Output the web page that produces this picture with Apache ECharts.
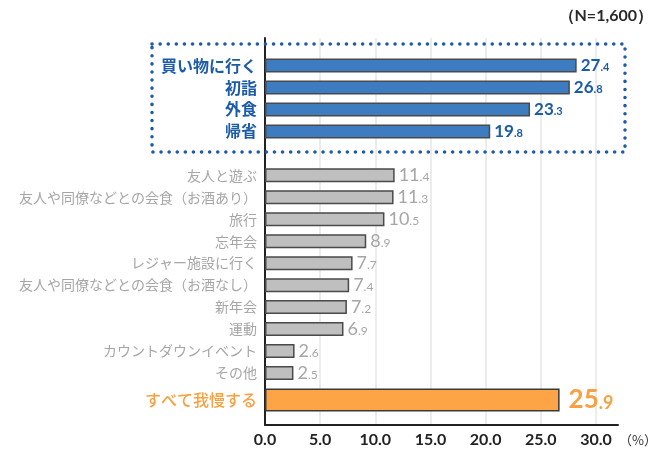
<!DOCTYPE html>
<html>
<head>
<meta charset="utf-8">
<script src="https://cdn.jsdelivr.net/npm/echarts@6/dist/echarts.min.js"></script>
<style>
  html, body { margin: 0; padding: 0; background: #fff; }
  #chart { width: 660px; height: 453px; }
</style>
</head>
<body>
<div id="chart"></div>
<script>
// highlighted activities (blue)
var mainCats = ['買い物に行く', '初詣', '外食', '帰省'];
var mainVals = [27.4, 26.8, 23.3, 19.8];
// other activities (gray)
var otherCats = ['友人と遊ぶ', '友人や同僚などとの会食（お酒あり）', '旅行', '忘年会', 'レジャー施設に行く',
    '友人や同僚などとの会食（お酒なし）', '新年会', '運動', 'カウントダウンイベント', 'その他'];
var otherVals = [11.4, 11.3, 10.5, 8.9, 7.7, 7.4, 7.2, 6.9, 2.6, 2.5];
// "skip everything" (orange)
var noneCats = ['すべて我慢する'];
var noneVals = [25.9];

var xMin = 0, xMax = 32, xStep = 5;

var BLUE = '#1c5ba8', GRAY = '#a6a6a6', ORANGE = '#f7a142';
var JP = '"Noto Sans CJK JP", sans-serif';
var NUM = 'Lato, "Noto Sans", sans-serif';

// blank row between the two groups
var rowCats = mainCats.concat([''], otherCats);
var rowVals = mainVals.concat([null], otherVals);
var nMain = mainCats.length;

function splitNum(v) {
    return v.toFixed(1).split('.');
}

var myChart = echarts.init(document.getElementById('chart'));

// no grid line at the axis end (32)
var splitColors = [];
for (var t = xMin; t <= xMax; t += xStep) splitColors.push('#ececec');
splitColors.push('transparent');

var option = {
    backgroundColor: '#fff',
    animation: false,
    title: {
        text: '（N=1,600）',
        right: 2,
        top: 3,
        textStyle: { fontFamily: NUM, fontSize: 16, fontWeight: 'bold', color: '#2a2a2a' }
    },
    grid: [
        { left: 265, right: 31, top: 38, bottom: 28 },
        { left: 265, right: 31, top: 54.5, bottom: 69 },
        { left: 265, right: 31, top: 386.5, bottom: 39.5 }
    ],
    xAxis: [{
        gridIndex: 0,
        type: 'value',
        min: xMin,
        max: xMax,
        interval: xStep,
        name: '（%）',
        nameLocation: 'end',
        nameGap: 0,
        nameTextStyle: { fontFamily: JP, fontSize: 13, color: '#333', verticalAlign: 'top', align: 'left', padding: [9, 0, 0, 1] },
        axisLine: { show: true, lineStyle: { color: '#222', width: 2 } },
        axisTick: { show: false },
        axisLabel: {
            margin: 7,
            fontFamily: NUM,
            fontSize: 16,
            fontWeight: 'bold',
            color: '#222',
            formatter: function (v) { return v % xStep === 0 ? v.toFixed(1) : ''; }
        },
        splitLine: { show: true, lineStyle: { color: splitColors, width: 2 } }
    }, {
        gridIndex: 1, type: 'value', min: xMin, max: xMax, show: false
    }, {
        gridIndex: 2, type: 'value', min: xMin, max: xMax, show: false
    }],
    yAxis: [{
        gridIndex: 0,
        type: 'value',
        min: 0,
        max: 1,
        axisLine: { show: true, lineStyle: { color: '#222', width: 2 } },
        axisTick: { show: false },
        axisLabel: { show: false },
        splitLine: { show: false }
    }, {
        gridIndex: 1,
        type: 'category',
        inverse: true,
        data: rowCats,
        axisLine: { show: false },
        axisTick: { show: false },
        axisLabel: {
            margin: 8,
            formatter: function (v, i) {
                if (!v) return '';
                return i < nMain ? '{b|' + v + '}' : '{g|' + v + '}';
            },
            rich: {
                b: { fontFamily: JP, fontSize: 16, fontWeight: 'bold', color: BLUE },
                g: { fontFamily: JP, fontSize: 14, color: GRAY }
            }
        }
    }, {
        gridIndex: 2,
        type: 'category',
        inverse: true,
        data: noneCats,
        axisLine: { show: false },
        axisTick: { show: false },
        axisLabel: {
            margin: 8,
            fontFamily: JP,
            fontSize: 16,
            fontWeight: 500,
            color: ORANGE
        }
    }],
    series: [{
        name: 'rows',
        type: 'bar',
        xAxisIndex: 1,
        yAxisIndex: 1,
        data: rowVals,
        barWidth: 14,
        itemStyle: {
            color: function (p) { return p.dataIndex < nMain ? '#3d7cc1' : '#bfbfbf'; },
            borderColor: '#4a4a4a',
            borderWidth: 1.5
        },
        label: {
            show: true,
            position: 'right',
            distance: 4,
            formatter: function (p) {
                if (p.value == null) return '';
                var s = splitNum(p.value);
                return p.dataIndex < nMain
                    ? '{bi|' + s[0] + '}{bd|.' + s[1] + '}'
                    : '{gi|' + s[0] + '}{gd|.' + s[1] + '}';
            },
            rich: {
                bi: { fontFamily: NUM, fontSize: 17, fontWeight: 'bold', color: BLUE, lineHeight: 17, verticalAlign: 'bottom' },
                bd: { fontFamily: NUM, fontSize: 11, fontWeight: 'bold', color: BLUE, lineHeight: 11, verticalAlign: 'bottom', padding: [0, 0, 1, 0] },
                gi: { fontFamily: NUM, fontSize: 18, color: GRAY, lineHeight: 18, verticalAlign: 'bottom' },
                gd: { fontFamily: NUM, fontSize: 12, color: GRAY, lineHeight: 12, verticalAlign: 'bottom', padding: [0, 0, 1, 0] }
            }
        }
    }, {
        name: 'none',
        type: 'bar',
        xAxisIndex: 2,
        yAxisIndex: 2,
        data: noneVals,
        barWidth: 23,
        itemStyle: { color: '#fda446', borderColor: '#3a3a3a', borderWidth: 1.5 },
        label: {
            show: true,
            position: 'right',
            distance: 9,
            formatter: function (p) {
                var s = splitNum(p.value);
                return '{oi|' + s[0] + '}{od|.' + s[1] + '}';
            },
            rich: {
                oi: { fontFamily: NUM, fontSize: 26, fontWeight: 'bold', color: ORANGE, lineHeight: 26, verticalAlign: 'bottom' },
                od: { fontFamily: NUM, fontSize: 18, fontWeight: 'bold', color: ORANGE, lineHeight: 18, verticalAlign: 'bottom', padding: [0, 0, 1, 0] }
            }
        }
    }],
    graphic: [{
        // dotted frame around the highlighted group
        type: 'rect',
        shape: { x: 152, y: 44, width: 473, height: 108 },
        style: {
            fill: 'none',
            stroke: '#1c5ba8',
            lineWidth: 3.5,
            lineDash: [0.1, 8],
            lineCap: 'round'
        },
        z: 100
    }]
};

myChart.setOption(option);
</script>
</body>
</html>
